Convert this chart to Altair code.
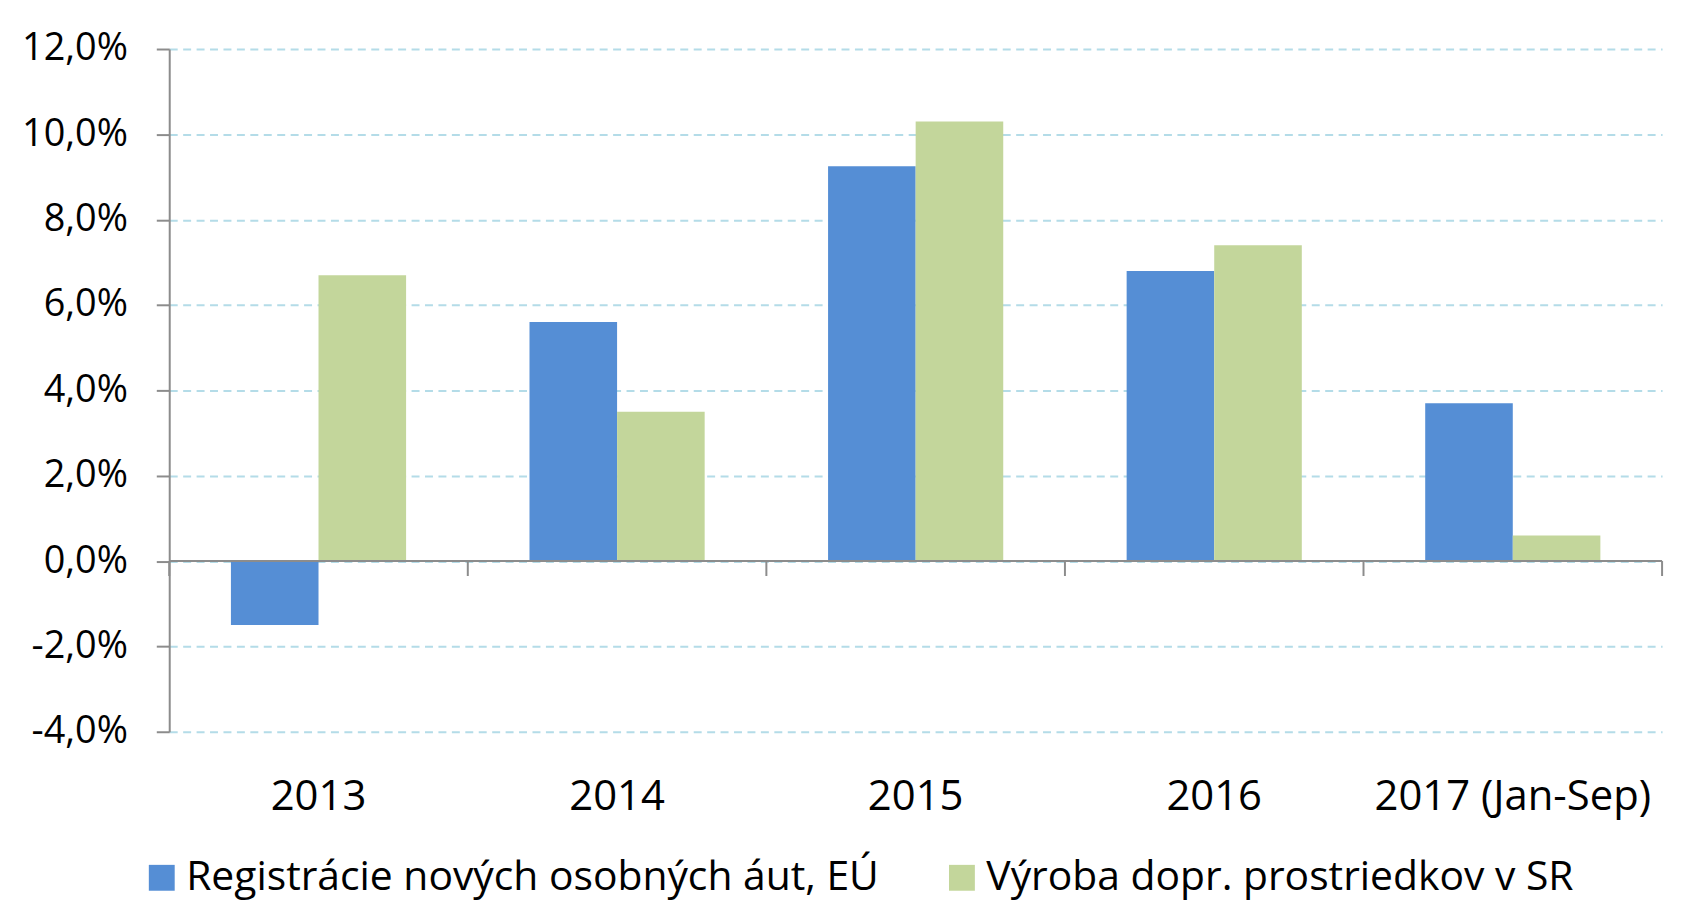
import altair as alt
import pandas as pd

categories = ["2013", "2014", "2015", "2016", "2017 (Jan-Sep)"]
series_names = ["Registrácie nových osobných áut, EÚ", "Výroba dopr. prostriedkov v SR"]
reg_eu = [-1.5, 5.6, 9.25, 6.8, 3.7]
vyroba_sr = [6.7, 3.5, 10.3, 7.4, 0.6]
y_ticks = [-4, -2, 0, 2, 4, 6, 8, 10, 12]
colors = ["#558ed5", "#c3d69b"]

rows = []
for i, c in enumerate(categories):
    rows.append({"cat": c, "series": series_names[0], "value": reg_eu[i]})
    rows.append({"cat": c, "series": series_names[1], "value": vyroba_sr[i]})
df = pd.DataFrame(rows)
cat_df = pd.DataFrame({"cat": categories})
zero_df = pd.DataFrame({"z": [0]})

FONT = "Open Sans"
GRAY = "#8c8c8c"
W, H = 1500, 686

x_scale = alt.Scale(domain=categories, paddingInner=0, paddingOuter=0)
y_scale = alt.Scale(domain=[-4, 12], nice=False)

x_axis = alt.Axis(title=None, domain=False, ticks=False, tickSize=0,
                  labelPadding=65, labelBaseline="middle", labelAngle=0, labelLimit=1000,
                  labelFontSize=42, labelFont=FONT, labelColor="black")
y_axis = alt.Axis(values=y_ticks, title=None,
                  labelExpr="(datum.value < 0 ? '-' : '') + replace(format(abs(datum.value), '.1f'), '.', ',') + '%'",
                  grid=True, gridDash=[8, 5.5], gridColor="#b4dce8", gridWidth=2,
                  domainColor=GRAY, domainWidth=2, tickColor=GRAY, tickWidth=2,
                  tickSize=13, labelPadding=29, labelFontSize=38, labelFont=FONT,
                  labelColor="black")

bars = alt.Chart(df).mark_bar(strokeWidth=0).encode(
    x=alt.X("cat:N", sort=categories, scale=x_scale, axis=x_axis),
    xOffset=alt.XOffset("series:N", sort=series_names,
                        scale=alt.Scale(domain=series_names, paddingInner=0, paddingOuter=0.7045)),
    y=alt.Y("value:Q", scale=y_scale, stack=None, axis=y_axis),
    y2=alt.Y2(datum=0),
    color=alt.Color("series:N", sort=series_names,
                    scale=alt.Scale(domain=series_names, range=colors),
                    legend=alt.Legend(title=None, orient="none", legendX=-28, legendY=812,
                                      direction="horizontal", symbolType="square",
                                      symbolSize=676, symbolStrokeWidth=0, symbolOpacity=1,
                                      labelFontSize=41, labelFont=FONT, labelColor="black",
                                      labelLimit=2000, labelOffset=4, columnPadding=62,
                                      labelBaseline="middle")),
)

zero_line = alt.Chart(zero_df).mark_rule(color=GRAY, strokeWidth=2).encode(
    y=alt.Y("z:Q", scale=y_scale, axis=y_axis),
    x=alt.value(0),
    x2=alt.value(W),
)

cat_ticks = alt.Chart(cat_df).mark_rule(color=GRAY, strokeWidth=2, y2Offset=15).encode(
    x=alt.X("cat:N", sort=categories, scale=x_scale, bandPosition=0, axis=x_axis),
    y=alt.Y(datum=0, scale=y_scale, axis=y_axis),
    y2=alt.Y2(datum=0),
)

end_tick = alt.Chart(zero_df).mark_rule(color=GRAY, strokeWidth=2, y2Offset=15).encode(
    x=alt.X(datum=categories[-1], bandPosition=1, scale=x_scale, axis=x_axis),
    y=alt.Y(datum=0, scale=y_scale, axis=y_axis),
    y2=alt.Y2(datum=0),
)

chart = alt.layer(bars, zero_line, cat_ticks, end_tick).properties(
    width=W, height=H,
    autosize=alt.AutoSizeParams(type="none"),
    padding={"left": 162, "top": 39, "right": 16, "bottom": 200},
    background="white",
).configure_view(stroke=None)

chart.save("out.html", embed_options={"renderer": "svg", "actions": False})
